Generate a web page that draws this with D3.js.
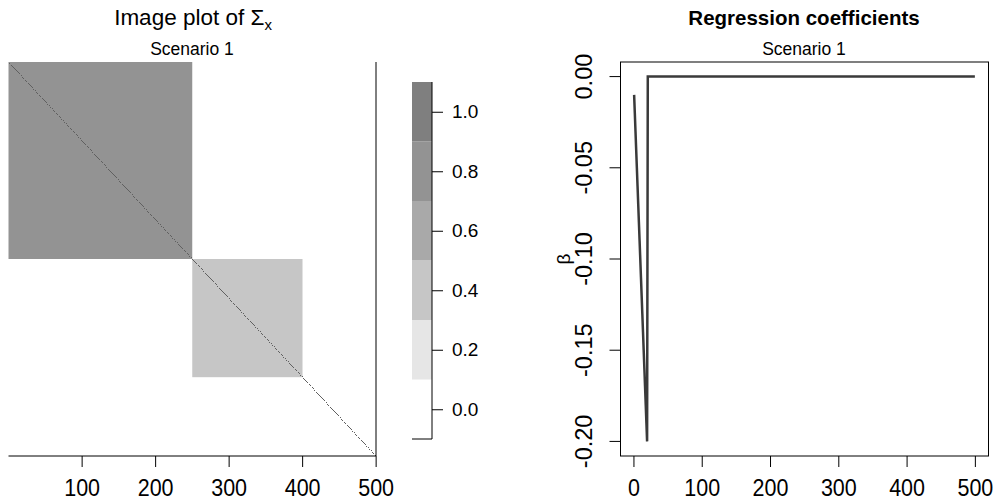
<!DOCTYPE html>
<html>
<head>
<meta charset="utf-8">
<script src="https://cdn.jsdelivr.net/npm/d3@7"></script>
<style>
  body { margin: 0; background: #fff; }
  svg { font-family: "Liberation Sans", Arial, sans-serif; }
</style>
</head>
<body>
<svg id="main-chart" width="995" height="501"></svg>
<script>
// covariance matrix: block structure + unit diagonal
const matrixSize = 500;
const blockStart = [1, 251];
const blockEnd = [250, 400];
const blockValue = [0.8, 0.4];
const diagValue = 1.0;

// colour key
const keyValues = [0.0, 0.2, 0.4, 0.6, 0.8, 1.0];
const keyColors = ["#ffffff", "#e6e6e6", "#c6c6c6", "#a9a9a9", "#939393", "#7f7f7f"];
const keyTicks = [0.0, 0.2, 0.4, 0.6, 0.8, 1.0];

// regression coefficients (index, beta); indices 21..500 are zero
const betaIndex = [1, 2, 3, 4, 5, 6, 7, 8, 9, 10, 11, 12, 13, 14, 15, 16, 17, 18, 19, 20, 21, 500];
const betaValue = [-0.01, -0.02, -0.03, -0.04, -0.05, -0.06, -0.07, -0.08, -0.09, -0.10,
                   -0.11, -0.12, -0.13, -0.14, -0.15, -0.16, -0.17, -0.18, -0.19, -0.20, 0, 0];

const leftXTicks = [100, 200, 300, 400, 500];
const rightXTicks = [0, 100, 200, 300, 400, 500];
const rightYTicks = [0.00, -0.05, -0.10, -0.15, -0.20];

const svg = d3.select("#main-chart");

// horizontal tick labels look a bit tall in the original
function styleHLabels(sel, size, offset) {
    sel.selectAll("text")
        .style("font-size", size + "px")
        .attr("fill", "#000")
        .attr("y", 0).attr("dy", 0)
        .attr("transform", `translate(0,${offset}) scale(1,1.15)`);
}

// ---------- left: image plot ----------
const imgX = d3.scaleLinear().domain([0.5, matrixSize + 0.5]).range([8.5, 376]);
const imgY = d3.scaleLinear().domain([0.5, matrixSize + 0.5]).range([62, 456]);

const colorScale = d3.scaleThreshold()
    .domain([0.1, 0.3, 0.5, 0.7, 0.9])
    .range(keyColors);

const blocks = blockStart.map((s, i) => ({ s: s, e: blockEnd[i], v: blockValue[i] }));

svg.append("g").selectAll("rect")
    .data(blocks)
    .enter().append("rect")
    .attr("x", d => imgX(d.s - 0.5))
    .attr("y", d => imgY(d.s - 0.5))
    .attr("width", d => imgX(d.e + 0.5) - imgX(d.s - 0.5))
    .attr("height", d => imgY(d.e + 0.5) - imgY(d.s - 0.5))
    .attr("fill", d => colorScale(d.v));

svg.append("g").selectAll("rect")
    .data(d3.range(1, matrixSize + 1))
    .enter().append("rect")
    .attr("x", i => imgX(i - 0.5))
    .attr("y", i => imgY(i - 0.5))
    .attr("width", imgX(1.5) - imgX(0.5))
    .attr("height", imgY(1.5) - imgY(0.5))
    .attr("fill", "#606060")
    .attr("shape-rendering", "crispEdges");

// bottom + right frame
svg.append("path")
    .attr("d", `M${imgX(0.5)},${imgY(500.5)}H${imgX(500.5)}V62`)
    .attr("fill", "none")
    .attr("stroke", "#000")
    .attr("stroke-width", 1);

const leftAxis = svg.append("g")
    .attr("transform", `translate(0,${imgY(500.5)})`)
    .call(d3.axisBottom(imgX).tickValues(leftXTicks).tickSize(11));
leftAxis.select(".domain").remove();
styleHLabels(leftAxis, 21.5, 40);

svg.append("text")
    .attr("x", 193).attr("y", 25)
    .attr("text-anchor", "middle")
    .style("font-size", "22.5px")
    .html('Image plot of Σ<tspan dy="5" font-size="15px">x</tspan>');

svg.append("text")
    .attr("x", 192).attr("y", 55)
    .attr("text-anchor", "middle")
    .style("font-size", "17.5px")
    .text("Scenario 1");

// colour key
const keyY = d3.scaleLinear().domain([-0.1, 1.1]).range([439, 82]);
svg.append("g").selectAll("rect")
    .data(keyValues)
    .enter().append("rect")
    .attr("x", 412)
    .attr("y", v => keyY(v + 0.1))
    .attr("width", 20)
    .attr("height", v => keyY(v - 0.1) - keyY(v + 0.1))
    .attr("fill", v => colorScale(v));

const keyAxis = svg.append("g")
    .attr("transform", "translate(432,0)")
    .call(d3.axisRight(keyY).tickValues(keyTicks).tickFormat(d3.format(".1f")).tickSize(11).tickPadding(9));
keyAxis.select(".domain").attr("d", `M0,${keyY(1.1)}V${keyY(-0.1)}H-20`);
keyAxis.selectAll("text").style("font-size", "19px").attr("fill", "#000");

// ---------- right: regression coefficients ----------
const bX = d3.scaleLinear().domain([1 - 499 * 0.04, 500 + 499 * 0.04]).range([620.5, 988.5]);
const bY = d3.scaleLinear().domain([-0.2 - 0.008, 0.008]).range([456, 62]);

svg.append("rect")
    .attr("x", 620.5).attr("y", 62)
    .attr("width", 368).attr("height", 394)
    .attr("fill", "none").attr("stroke", "#000");

const pts = betaIndex.map((x, i) => [x, betaValue[i]]);
svg.append("path")
    .datum(pts)
    .attr("fill", "none")
    .attr("stroke", "#3a3a3a")
    .attr("stroke-width", 2.5)
    .attr("d", d3.line().x(d => bX(d[0])).y(d => bY(d[1])));

const rxAxis = svg.append("g")
    .attr("transform", "translate(0,456)")
    .call(d3.axisBottom(bX).tickValues(rightXTicks).tickSize(11));
rxAxis.select(".domain").remove();
styleHLabels(rxAxis, 21.5, 40);

const ryAxis = svg.append("g")
    .attr("transform", "translate(620.5,0)")
    .call(d3.axisLeft(bY).tickValues(rightYTicks).tickFormat(d => d.toFixed(2)).tickSize(11));
ryAxis.select(".domain").remove();
ryAxis.selectAll(".tick").attr("transform", null);
ryAxis.selectAll(".tick line").attr("transform", d => `translate(0,${bY(d)})`);
ryAxis.selectAll("text")
    .style("font-size", "23.5px").attr("fill", "#000")
    .attr("text-anchor", "middle")
    .attr("x", 0).attr("dy", 0).attr("y", 0)
    .attr("transform", d => `translate(-29,${bY(d)}) rotate(-90)`);

svg.append("text")
    .attr("x", 804).attr("y", 25)
    .attr("text-anchor", "middle")
    .style("font-size", "20.5px")
    .style("font-weight", "bold")
    .text("Regression coefficients");

svg.append("text")
    .attr("x", 804).attr("y", 55)
    .attr("text-anchor", "middle")
    .style("font-size", "17.5px")
    .text("Scenario 1");

svg.append("text")
    .attr("transform", `translate(570,${bY(-0.1)}) rotate(-90)`)
    .attr("text-anchor", "middle")
    .style("font-size", "19px")
    .text("β");
</script>
</body>
</html>
